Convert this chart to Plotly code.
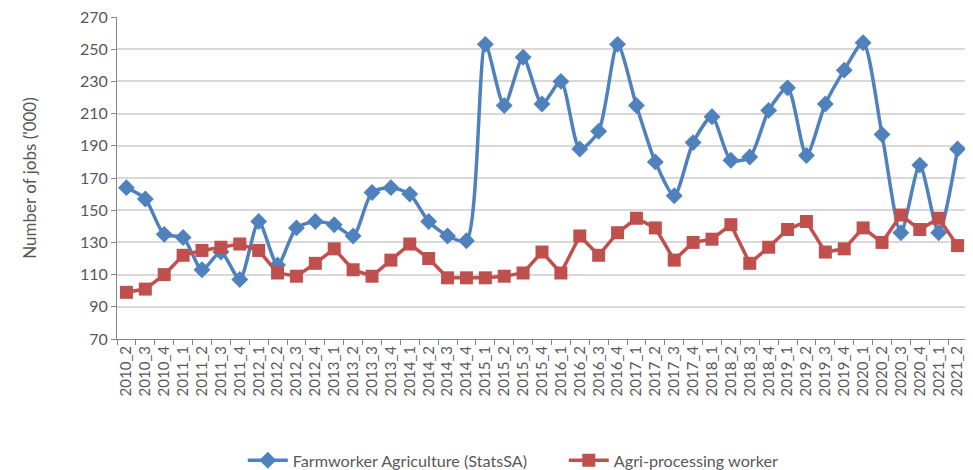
import plotly.graph_objects as go

quarters = [
    "2010_2", "2010_3", "2010_4",
    "2011_1", "2011_2", "2011_3", "2011_4",
    "2012_1", "2012_2", "2012_3", "2012_4",
    "2013_1", "2013_2", "2013_3", "2013_4",
    "2014_1", "2014_2", "2014_3", "2014_4",
    "2015_1", "2015_2", "2015_3", "2015_4",
    "2016_1", "2016_2", "2016_3", "2016_4",
    "2017_1", "2017_2", "2017_3", "2017_4",
    "2018_1", "2018_2", "2018_3", "2018_4",
    "2019_1", "2019_2", "2019_3", "2019_4",
    "2020_1", "2020_2", "2020_3", "2020_4",
    "2021_1", "2021_2",
]

farmworker = [
    164, 157, 135,
    133, 113, 124, 107,
    143, 116, 139, 143,
    141, 134, 161, 164,
    160, 143, 134, 131,
    253, 215, 245, 216,
    230, 188, 199, 253,
    215, 180, 159, 192,
    208, 181, 183, 212,
    226, 184, 216, 237,
    254, 197, 136, 178,
    136, 188,
]

agri_processing = [
    99, 101, 110,
    122, 125, 127, 129,
    125, 111, 109, 117,
    126, 113, 109, 119,
    129, 120, 108, 108,
    108, 109, 111, 124,
    111, 134, 122, 136,
    145, 139, 119, 130,
    132, 141, 117, 127,
    138, 143, 124, 126,
    139, 130, 147, 138,
    145, 128,
]

y_ticks = list(range(70, 271, 20))

BLUE = "#4F81BD"
RED = "#C0504D"
FONT = "Lato, 'DejaVu Sans', sans-serif"

fig = go.Figure()

fig.add_trace(go.Scatter(
    x=quarters, y=farmworker,
    name="Farmworker Agriculture (StatsSA)",
    mode="lines+markers",
    line=dict(color=BLUE, width=3.5, shape="spline", smoothing=0.7),
    marker=dict(symbol="diamond", size=13, color=BLUE),
))

fig.add_trace(go.Scatter(
    x=quarters, y=agri_processing,
    name="Agri-processing worker",
    mode="lines+markers",
    line=dict(color=RED, width=3.5),
    marker=dict(symbol="square", size=13, color=RED),
))

# page body has an 8px margin, so the figure is sized to fit the window
fig.update_layout(
    width=965, height=462,
    margin=dict(l=109, r=6, t=9, b=131),
    plot_bgcolor="white",
    paper_bgcolor="white",
    font=dict(family=FONT, color="#595959", size=13),
    showlegend=True,
    legend=dict(
        orientation="h",
        x=0.148, xanchor="left",
        yref="container",
        y=0.02, yanchor="middle",
        font=dict(size=16.2, color="#595959"),
        itemwidth=40,
        entrywidth=266,
    ),
    xaxis=dict(
        type="category",
        tickangle=-90,
        tickfont=dict(size=15),
        showgrid=False,
        showline=True,
        linecolor="#868686",
        linewidth=1,
        ticks="outside",
        ticklen=5,
        tickcolor="#868686",
        tickson="boundaries",
        automargin=False,
        range=[-0.5, len(quarters) - 0.5],
    ),
    yaxis=dict(
        range=[70, 270],
        tickvals=y_ticks,
        tickfont=dict(size=16),
        ticklabeloverflow="allow",
        showgrid=True,
        gridcolor="#D9D9D9",
        gridwidth=1.5,
        showline=True,
        linecolor="#868686",
        linewidth=1,
        ticks="outside",
        ticklen=5,
        tickcolor="#868686",
        zeroline=False,
        automargin=False,
        title=dict(text="Number of jobs ('000)", font=dict(size=17), standoff=39),
    ),
)

fig.write_html("out.html")
